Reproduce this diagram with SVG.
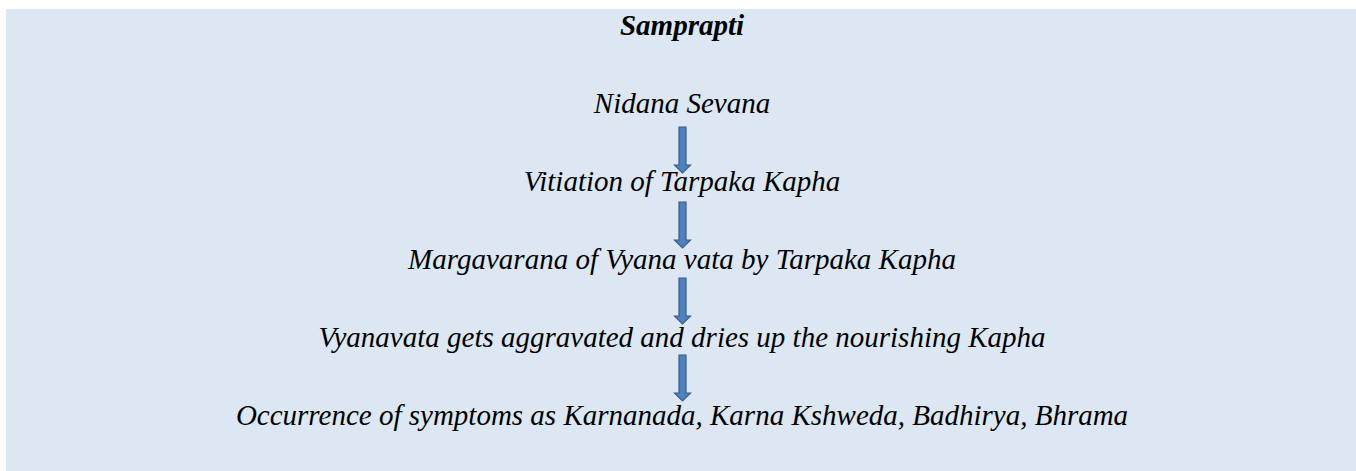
<svg xmlns="http://www.w3.org/2000/svg" width="1356" height="471" viewBox="0 0 1356 471">
<style>
.t{font-family:"Liberation Serif","Times New Roman",serif;font-style:italic;font-size:29px;fill:#000;text-anchor:middle}
.b{font-weight:bold}
.arr{fill:#4f81bd;stroke:#385d8a;stroke-width:1.2}
</style>
<defs>
<path id="a" d="M-3.5,0 H3.5 V38 H8 L0,46 L-8,38 H-3.5 Z"/>
</defs>
<rect x="0" y="0" width="1356" height="471" fill="#fff"/>
<rect id="bg" x="6" y="9" width="1350" height="462" fill="#dce7f3"/>
<g id="title"><text class="t b" x="682" y="35">Samprapti</text></g>
<g id="n1"><text class="t" x="682" y="113">Nidana Sevana</text></g>
<g id="n2"><text class="t" x="682" y="191">Vitiation of Tarpaka Kapha</text></g>
<g id="n3"><text class="t" x="682" y="269">Margavarana of Vyana vata by Tarpaka Kapha</text></g>
<g id="n4"><text class="t" x="682" y="347">Vyanavata gets aggravated and dries up the nourishing Kapha</text></g>
<g id="n5"><text class="t" x="682" y="425">Occurrence of symptoms as Karnanada, Karna Kshweda, Badhirya, Bhrama</text></g>
<g id="connectors">
<use href="#a" class="arr" x="682.5" y="127"/>
<use href="#a" class="arr" x="682.5" y="202"/>
<use href="#a" class="arr" x="682.5" y="278"/>
<use href="#a" class="arr" x="682.5" y="355"/>
</g>
</svg>
